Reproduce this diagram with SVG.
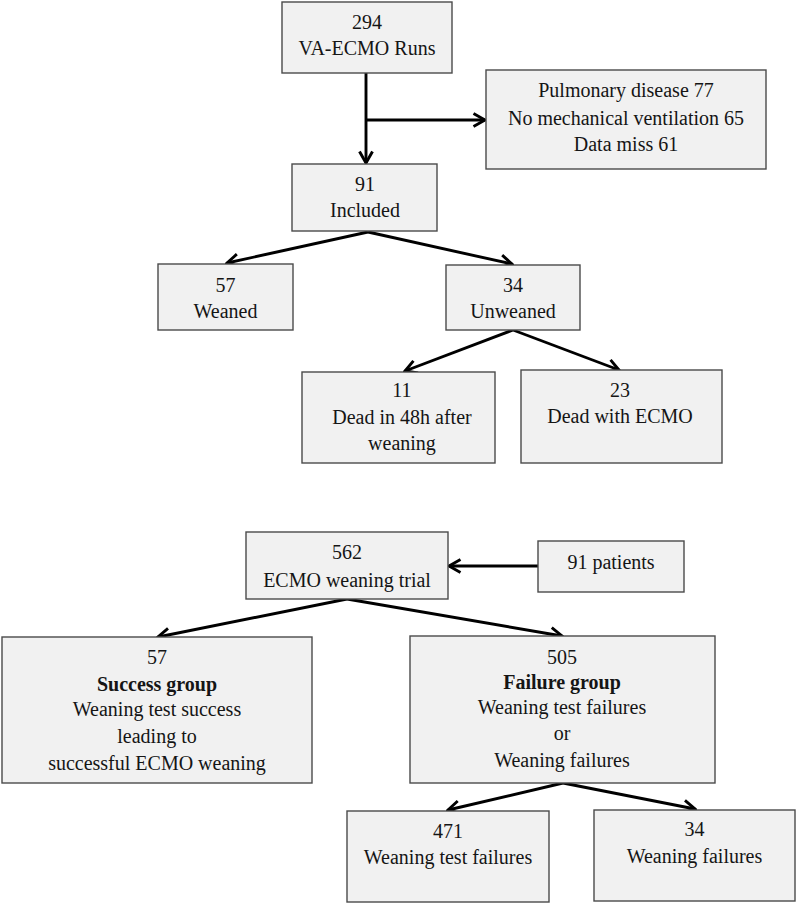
<svg xmlns="http://www.w3.org/2000/svg" width="796" height="904" viewBox="0 0 796 904">
<style>
.box{fill:#f1f1f1;stroke:#4a4a4a;stroke-width:1.4}
text{font-family:"Liberation Serif","Times New Roman",serif;font-size:20px;fill:#151515;text-anchor:middle}
.b{font-weight:bold}
.c{fill:none;stroke:#000;stroke-width:2.9}
</style>
<defs>
<marker id="arr" markerUnits="userSpaceOnUse" viewBox="0 0 15 16" refX="13" refY="8" markerWidth="15" markerHeight="16" orient="auto">
<path d="M1.5,1.5 L13,8 L1.5,14.5" fill="none" stroke="#000" stroke-width="2.9" stroke-linejoin="miter"/>
</marker>
</defs>
<rect width="796" height="904" fill="#fff"/>
<g id="connectors">
<line class="c" x1="366" y1="73" x2="366" y2="163" marker-end="url(#arr)"/>
<line class="c" x1="366" y1="120" x2="485" y2="120" marker-end="url(#arr)"/>
<line class="c" x1="368" y1="232" x2="227" y2="263" marker-end="url(#arr)"/>
<line class="c" x1="368" y1="232" x2="512" y2="264" marker-end="url(#arr)"/>
<line class="c" x1="513" y1="330" x2="405" y2="371" marker-end="url(#arr)"/>
<line class="c" x1="513" y1="330" x2="619" y2="370" marker-end="url(#arr)"/>
<line class="c" x1="538" y1="566" x2="449" y2="566" marker-end="url(#arr)"/>
<line class="c" x1="347" y1="599" x2="158" y2="637" marker-end="url(#arr)"/>
<line class="c" x1="347" y1="599" x2="562" y2="636" marker-end="url(#arr)"/>
<line class="c" x1="563" y1="783" x2="448" y2="810" marker-end="url(#arr)"/>
<line class="c" x1="563" y1="783" x2="695" y2="809" marker-end="url(#arr)"/>
</g>
<g id="n294"><rect class="box" x="282" y="2" width="170" height="71"/><text x="367" y="29">294</text><text x="367" y="55">VA-ECMO Runs</text></g>
<g id="nExcl"><rect class="box" x="486" y="70" width="280" height="99"/><text x="626" y="97">Pulmonary disease 77</text><text x="626" y="124.5">No mechanical ventilation 65</text><text x="626" y="150.5">Data miss 61</text></g>
<g id="n91"><rect class="box" x="292" y="164" width="145" height="67"/><text x="365" y="191">91</text><text x="365" y="217">Included</text></g>
<g id="nWeaned"><rect class="box" x="158" y="264" width="135" height="66"/><text x="225.5" y="292">57</text><text x="225.5" y="318">Weaned</text></g>
<g id="nUnweaned"><rect class="box" x="446" y="265" width="134" height="65"/><text x="513" y="292">34</text><text x="513" y="318">Unweaned</text></g>
<g id="nDead48"><rect class="box" x="302" y="372" width="193" height="91"/><text x="402" y="397">11</text><text x="402" y="424">Dead in 48h after</text><text x="402" y="450">weaning</text></g>
<g id="nDeadECMO"><rect class="box" x="521" y="370" width="201" height="93"/><text x="620" y="397">23</text><text x="620" y="423">Dead with ECMO</text></g>
<g id="n562"><rect class="box" x="246" y="532" width="202" height="67"/><text x="347" y="559">562</text><text x="347" y="587">ECMO weaning trial</text></g>
<g id="nPatients"><rect class="box" x="538" y="541" width="146" height="51"/><text x="611" y="569">91 patients</text></g>
<g id="nSuccess"><rect class="box" x="2" y="637" width="310" height="146"/><text x="157" y="664">57</text><text class="b" x="157" y="691">Success group</text><text x="157" y="716">Weaning test success</text><text x="157" y="743">leading to</text><text x="157" y="770">successful ECMO weaning</text></g>
<g id="nFailure"><rect class="box" x="410" y="636" width="305" height="147"/><text x="562" y="664">505</text><text class="b" x="562" y="689">Failure group</text><text x="562" y="714">Weaning test failures</text><text x="562" y="740">or</text><text x="562" y="767">Weaning failures</text></g>
<g id="nTestFail"><rect class="box" x="347" y="811" width="202" height="91"/><text x="448" y="838">471</text><text x="448" y="864">Weaning test failures</text></g>
<g id="nWeanFail"><rect class="box" x="594" y="810" width="201" height="91"/><text x="694.5" y="836">34</text><text x="694.5" y="863">Weaning failures</text></g>
</svg>
